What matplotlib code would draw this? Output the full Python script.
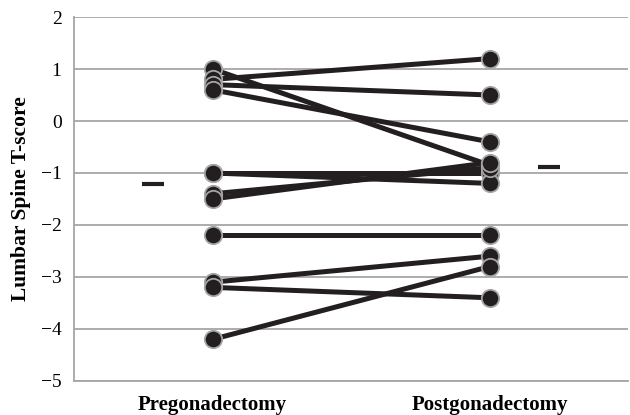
import matplotlib.pyplot as plt

# T-scores per subject
groups = ['Pregonadectomy', 'Postgonadectomy']
pre = [1.0, 0.8, 0.7, 0.6, -1.0, -1.0, -1.4, -1.5, -2.2, -3.1, -3.2, -4.2]
post = [-0.85, 1.2, 0.5, -0.4, -1.0, -1.2, -0.9, -0.8, -2.2, -2.6, -3.4, -2.8]
# short dashes beside each group (group median)
center_pre = -1.22
center_post = -0.88
yticks = [2, 1, 0, -1, -2, -3, -4, -5]

plt.rcParams['font.family'] = ['Liberation Serif', 'DejaVu Serif']

dark = '#231f20'
grey = '#a6a6a6'

fig = plt.figure(figsize=(6.3, 4.15), dpi=100)
ax = fig.add_axes([0.1175, 0.082, 0.8795, 0.877])

xs = [0.5, 1.5]
for a, b in zip(pre, post):
    ax.plot(xs, [a, b], color=dark, lw=3.6, solid_capstyle='butt', zorder=3)
for a, b in zip(pre, post):
    ax.plot(xs, [a, b], ls='none', marker='o', ms=12.5, mfc=dark,
            mec=grey, mew=1.3, zorder=4)

ax.plot([0.285 - 0.04, 0.285 + 0.04], [center_pre, center_pre],
        color=dark, lw=3, solid_capstyle='butt', zorder=3)
ax.plot([1.715 - 0.04, 1.715 + 0.04], [center_post, center_post],
        color=dark, lw=3, solid_capstyle='butt', zorder=3)

ax.set_xlim(0, 2)
ax.set_ylim(-5, 2)
ax.set_yticks(yticks)
ax.set_yticklabels([str(t).replace('-', '\u2212') for t in yticks], fontsize=14)
ax.set_xticks(xs)
ax.set_xticklabels(groups, fontsize=15, fontweight='bold')
ax.tick_params(axis='y', length=0, pad=9)
ax.tick_params(axis='x', length=0, pad=10)

ax.grid(axis='y', color=grey, lw=1.3)
ax.set_axisbelow(True)
for side in ['top', 'right']:
    ax.spines[side].set_visible(False)
for side in ['left', 'bottom']:
    ax.spines[side].set_color(grey)
    ax.spines[side].set_linewidth(1.3)

ax.set_ylabel('Lumbar Spine T-score', fontsize=15.5, fontweight='bold', labelpad=7)

fig.savefig('out.png', dpi=100)
